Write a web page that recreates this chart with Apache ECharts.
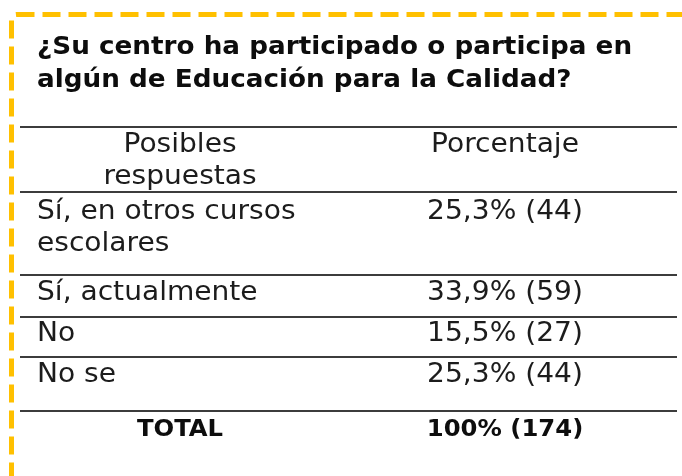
<!DOCTYPE html>
<html>
<head>
<meta charset="utf-8">
<script src="https://cdn.jsdelivr.net/npm/echarts@6/dist/echarts.min.js"></script>
<style>
  html, body { margin: 0; padding: 0; background: #fff; }
  #main { width: 682px; height: 476px; }
</style>
</head>
<body>
<div id="main"></div>
<script>
// datos de la tabla
var title = '¿Su centro ha participado o participa en\nalgún de Educación para la Calidad?';
var headers = ['Posibles\nrespuestas', 'Porcentaje'];
var respuestas = ['Sí, en otros cursos\nescolares', 'Sí, actualmente', 'No', 'No se'];
var porcentajes = [25.3, 33.9, 15.5, 25.3];
var cuentas = [44, 59, 27, 44];
var totalLabel = 'TOTAL';
var totalPct = 100;
var totalCount = 174;

// layout
var lineYs = [127, 192, 275, 317, 357, 411];
var rowMidY = [228, 293, 334, 375];
var headMidY = 161, totalMidY = 430;
var col1X = 37, col1C = 180, col2C = 505;
var FONT = '"DejaVu Sans", sans-serif';
var BODY = '26px ' + FONT, SX = 1.08;

function fmt(p, c) {
    var s = (p % 1 === 0) ? String(p) : p.toFixed(1).replace('.', ',');
    return s + '% (' + c + ')';
}

function txt(t, x, y, font, align, color) {
    return {
        type: 'text', x: x, y: y, scaleX: SX,
        style: { text: t, font: font, fill: color || '#1c1c1c', align: align, verticalAlign: 'middle', lineHeight: 32 }
    };
}

var els = [];

// borde discontinuo
els.push({
    type: 'rect',
    shape: { x: 11.5, y: 14.5, width: 720, height: 520, r: 5 },
    style: { fill: 'none', stroke: '#FFC000', lineWidth: 5, lineDash: [18, 8] }
});

// titulo
els.push({
    type: 'text', x: 37, y: 64, scaleX: 1.05,
    style: { text: title, font: 'bold 25px ' + FONT, fill: '#0d0d0d', verticalAlign: 'middle', lineHeight: 33 }
});

// lineas
lineYs.forEach(function (y) {
    els.push({
        type: 'line',
        shape: { x1: 20, y1: y, x2: 677, y2: y },
        style: { stroke: '#3c3c3c', lineWidth: 2 }
    });
});

// cabecera
els.push(txt(headers[0], col1C, headMidY, BODY, 'center'));
els.push(txt(headers[1], col2C, 145, BODY, 'center'));

// filas
respuestas.forEach(function (r, i) {
    els.push(txt(r, col1X, rowMidY[i], BODY, 'left'));
    var py = r.indexOf('\n') >= 0 ? rowMidY[i] - 16 : rowMidY[i];
    els.push(txt(fmt(porcentajes[i], cuentas[i]), col2C, py, BODY, 'center'));
});

// total
els.push(txt(totalLabel, col1C, totalMidY, 'bold 22.5px ' + FONT, 'center', '#0d0d0d'));
els.push(txt(fmt(totalPct, totalCount), col2C, totalMidY, 'bold 22.5px ' + FONT, 'center', '#0d0d0d'));

var chart = echarts.init(document.getElementById('main'));
chart.setOption({
    backgroundColor: '#fff',
    animation: false,
    graphic: { elements: els }
});
</script>
</body>
</html>
